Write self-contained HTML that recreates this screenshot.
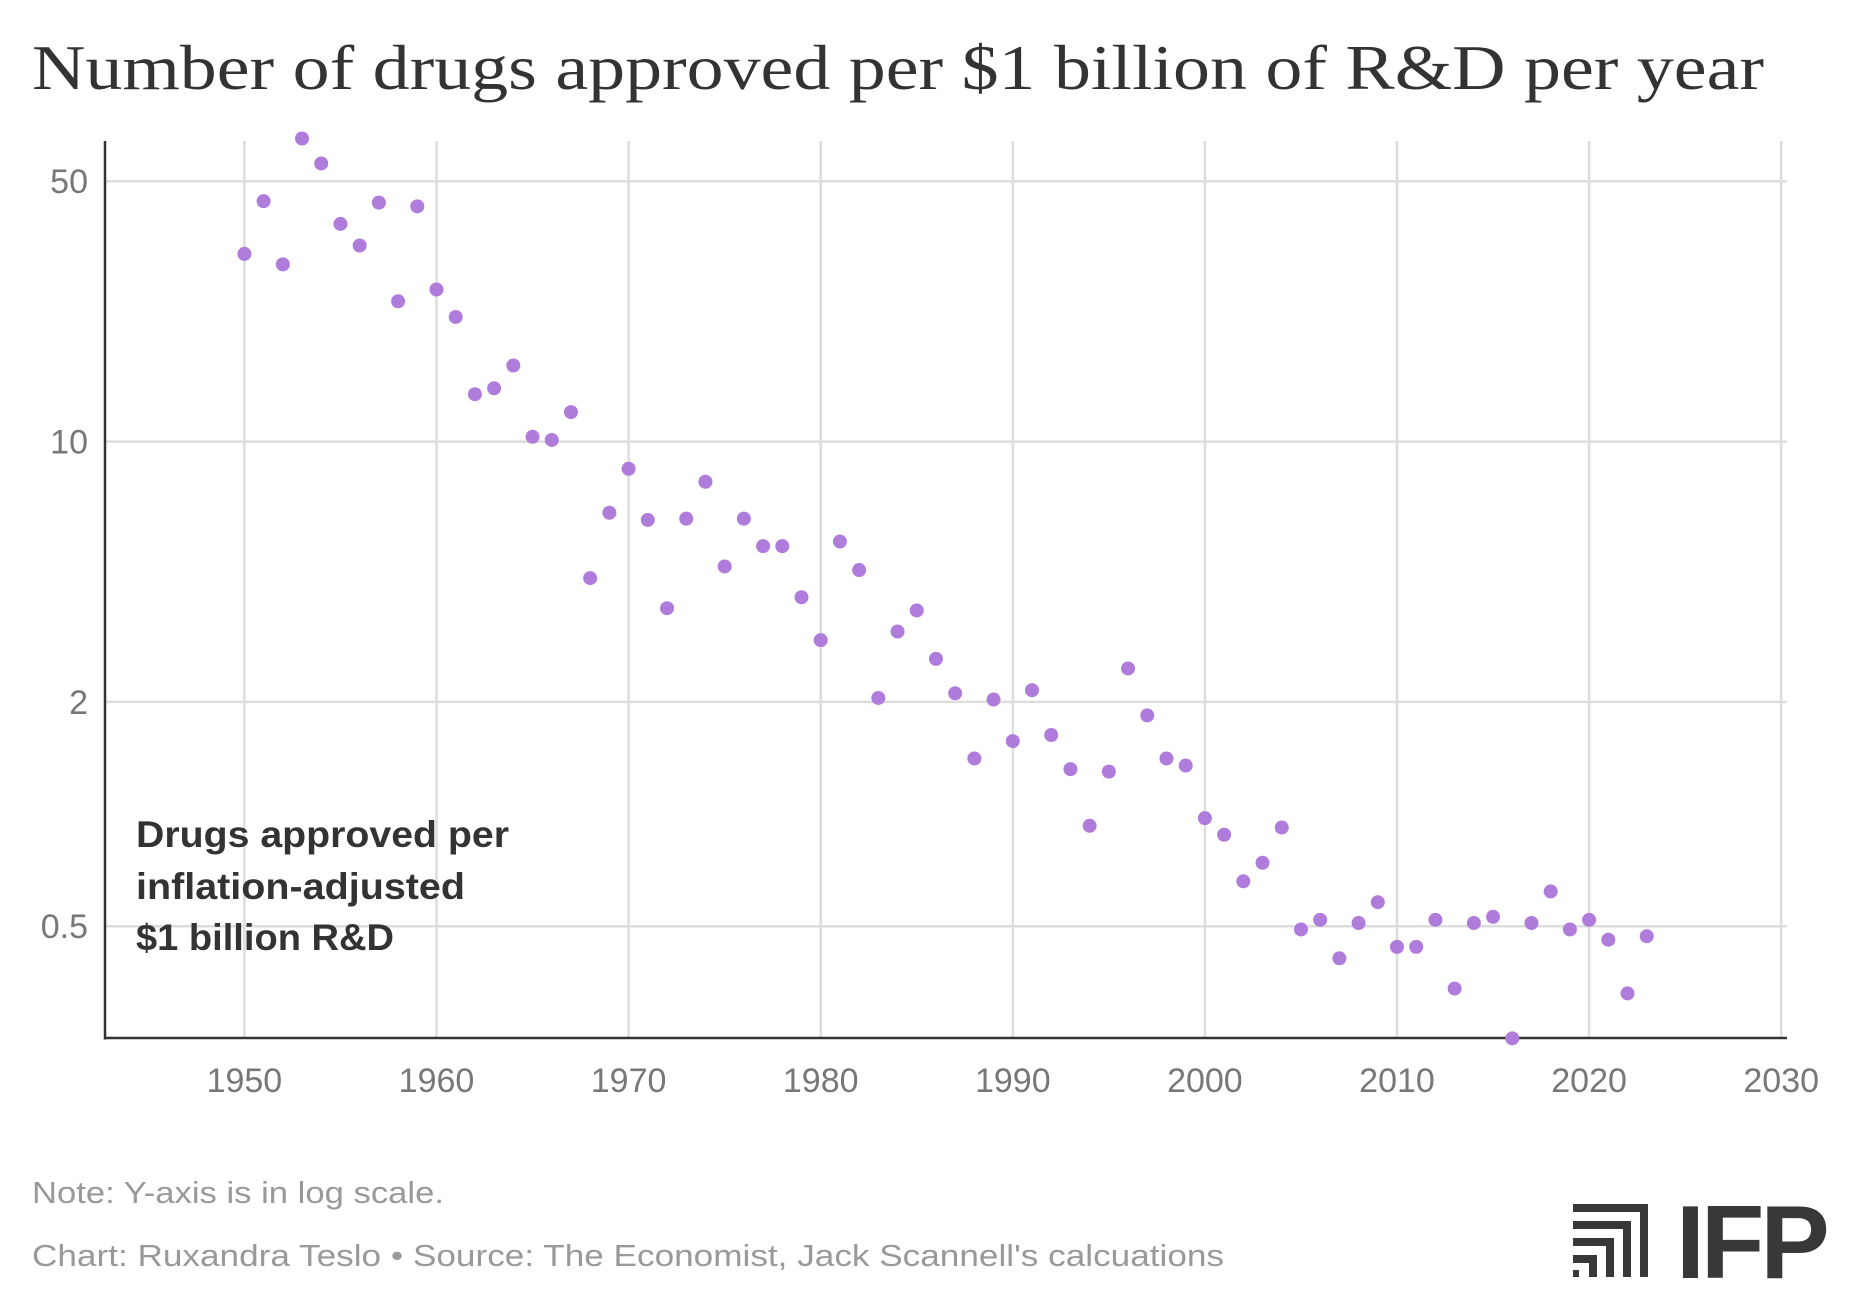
<!DOCTYPE html>
<html><head><meta charset="utf-8"><style>
html,body{margin:0;padding:0;background:#fff;width:1860px;height:1308px;overflow:hidden}
svg{display:block}
</style></head><body>
<svg id="chart" width="1860" height="1308" xmlns="http://www.w3.org/2000/svg">
<text x="32" y="89" font-family="Liberation Serif, serif" font-size="64" fill="#333" textLength="1732" lengthAdjust="spacingAndGlyphs">Number of drugs approved per $1 billion of R&amp;D per year</text>
<g id="grid"></g>
<g id="axes"></g>
<g id="dots"></g>
<g font-family="Liberation Sans, sans-serif" font-weight="bold" font-size="37" fill="#333">
<text x="136" y="847" textLength="373" lengthAdjust="spacingAndGlyphs">Drugs approved per</text>
<text x="136" y="899" textLength="329" lengthAdjust="spacingAndGlyphs">inflation-adjusted</text>
<text x="136" y="950" textLength="258" lengthAdjust="spacingAndGlyphs">$1 billion R&amp;D</text>
</g>
<text x="32" y="1203" font-family="Liberation Sans, sans-serif" font-size="31" fill="#999" textLength="412" lengthAdjust="spacingAndGlyphs">Note: Y-axis is in log scale.</text>
<text x="32" y="1266" font-family="Liberation Sans, sans-serif" font-size="31" fill="#999" textLength="1192" lengthAdjust="spacingAndGlyphs">Chart: Ruxandra Teslo • Source: The Economist, Jack Scannell's calcuations</text>
<g fill="#383838" transform="translate(-7,-8)">
<rect x="1580" y="1212" width="75" height="8"/><rect x="1647" y="1212" width="8" height="73"/>
<rect x="1580" y="1229" width="58" height="8"/><rect x="1630" y="1229" width="8" height="56"/>
<rect x="1580" y="1246" width="41" height="8"/><rect x="1613" y="1246" width="8" height="39"/>
<rect x="1580" y="1263" width="24" height="8"/><rect x="1596" y="1263" width="8" height="22"/>
<rect x="1580" y="1278" width="6" height="7"/>
<text x="1683" y="1286" font-family="Liberation Sans, sans-serif" font-weight="bold" font-size="104" letter-spacing="-4">IFP</text>
</g>
</svg>
<script>
const years = [1950,1951,1952,1953,1954,1955,1956,1957,1958,1959,1960,1961,1962,1963,1964,1965,1966,1967,1968,1969,1970,1971,1972,1973,1974,1975,1976,1977,1978,1979,1980,1981,1982,1983,1984,1985,1986,1987,1988,1989,1990,1991,1992,1993,1994,1995,1996,1997,1998,1999,2000,2001,2002,2003,2004,2005,2006,2007,2008,2009,2010,2011,2012,2013,2014,2015,2016,2017,2018,2019,2020,2021,2022,2023];
const drugsPerBillion = [31.9,44.2,29.9,65.1,55.8,38.4,33.6,43.8,23.8,42.8,25.6,21.6,13.4,13.9,16.0,10.3,10.1,12.0,4.30,6.44,8.45,6.16,3.57,6.21,7.80,4.62,6.21,5.24,5.24,3.82,2.93,5.39,4.52,2.05,3.09,3.52,2.61,2.11,1.41,2.03,1.57,2.15,1.63,1.32,0.93,1.30,2.46,1.84,1.41,1.35,0.975,0.88,0.66,0.74,0.92,0.49,0.52,0.41,0.51,0.58,0.44,0.44,0.52,0.34,0.51,0.53,0.25,0.51,0.62,0.49,0.52,0.46,0.33,0.47];
const xTicks = [1950,1960,1970,1980,1990,2000,2010,2020,2030];
const yTicks = [50,10,2,0.5];
const yTickLabels = ["50","10","2","0.5"];

const NS="http://www.w3.org/2000/svg";
const L=105,R=1787,T=141,B=1038;
const xS=y=>244.4+(y-1950)*19.21;
const yS=v=>181.2+(Math.log10(50)-Math.log10(v))*372.5;
function mk(tag,attrs,parent){const e=document.createElementNS(NS,tag);for(const k in attrs)e.setAttribute(k,attrs[k]);parent.appendChild(e);return e;}
const grid=document.getElementById('grid'),axes=document.getElementById('axes'),dots=document.getElementById('dots');
xTicks.forEach(t=>{
  const l=mk('line',{x1:xS(t),x2:xS(t),y1:T,y2:B,stroke:'#dddddd','stroke-width':2.5},grid);
  
  
  const tx=mk('text',{x:xS(t),y:1092,'text-anchor':'middle','font-family':'Liberation Sans, sans-serif','font-size':34,fill:'#777'},axes);
  tx.textContent=t;
  
  
});
yTicks.forEach((t,i)=>{
  const l=mk('line',{x1:L,x2:R,y1:yS(t),y2:yS(t),stroke:'#dddddd','stroke-width':2.5},grid);
  
  
  const tx=mk('text',{x:88,y:yS(t)+12,'text-anchor':'end','font-family':'Liberation Sans, sans-serif','font-size':34,fill:'#777'},axes);
  tx.textContent=yTickLabels[i];
  
  
});
const ya=mk('line',{x1:L,x2:L,y1:T,y2:B+1.5,stroke:'#333','stroke-width':2.5},axes);


const xa=mk('line',{x1:L,x2:R,y1:B,y2:B,stroke:'#333','stroke-width':2.5},axes);


years.forEach((yr,i)=>{
  const c=mk('circle',{cx:xS(yr),cy:yS(drugsPerBillion[i]),r:7,fill:'#b07cdb'},dots);
  
  
});
</script>
</body></html>
